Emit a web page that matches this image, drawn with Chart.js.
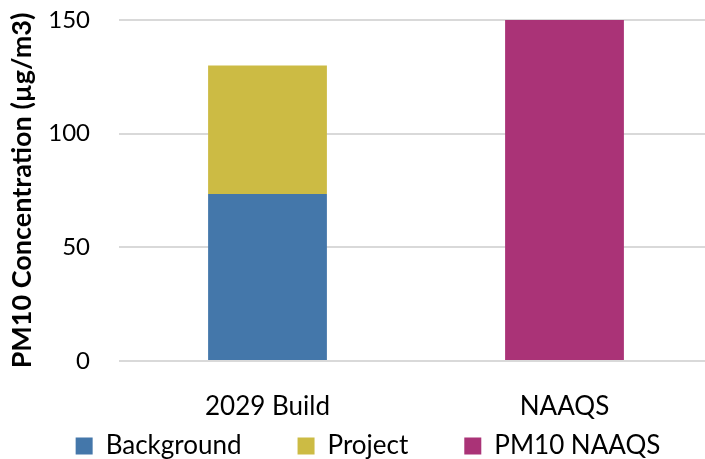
<!DOCTYPE html>
<html>
<head>
<meta charset="utf-8">
<script src="https://cdn.jsdelivr.net/npm/chart.js@4/dist/chart.umd.min.js"></script>
<style>
    html, body { margin: 0; padding: 0; background: #fff; overflow: hidden; }
    #wrap { width: 705px; height: 459px; overflow: hidden; }
</style>
</head>
<body>
<!-- canvas is a bit larger than the window so the gridlines run off the right edge like the original -->
<div id="wrap"><canvas id="pmChart" width="713" height="513"></canvas></div>
<script>
const categories = ["2029 Build", "NAAQS"];
const background = [73.5, null];
const project = [56.5, null];
const naaqs = [null, 150];
const yTicks = [0, 50, 100, 150];

// legend padding also sets the gap between items, so move the legend into place after layout
const legendNudge = {
    id: "legendNudge",
    afterLayout(chart) {
        const lg = chart.legend;
        const labels = lg.options.labels;
        const dy = 446 - (lg.top + labels.padding + labels.font.size / 2);
        const dx = 368 - (lg.left + lg.right) / 2;
        lg.top += dy;
        lg.bottom += dy;
        lg.left += dx;
        lg.right += dx;
    }
};

const ctx = document.getElementById("pmChart");

new Chart(ctx, {
    type: "bar",
    data: {
        labels: categories,
        datasets: [
            { label: "Background", data: background, backgroundColor: "#4477AA", borderWidth: 0 },
            { label: "Project", data: project, backgroundColor: "#CCBB44", borderWidth: 0 },
            { label: "PM10 NAAQS", data: naaqs, backgroundColor: "#AA3377", borderWidth: 0 }
        ]
    },
    plugins: [legendNudge],
    options: {
        responsive: false,
        animation: false,
        layout: {
            padding: { top: 20, right: 0, bottom: 0, left: 0 }
        },
        datasets: {
            bar: { barPercentage: 0.4, categoryPercentage: 1.0 }
        },
        plugins: {
            legend: {
                position: "bottom",
                labels: {
                    color: "#000",
                    font: { family: "Lato", size: 26 },
                    boxWidth: 17,
                    boxHeight: 17,
                    padding: 56
                }
            },
            tooltip: { enabled: false }
        },
        scales: {
            x: {
                stacked: true,
                grid: { display: false },
                border: { display: false },
                ticks: {
                    color: "#000",
                    font: { family: "Lato", size: 26 },
                    padding: 22
                },
                afterFit: (scale) => { scale.height = 60; }
            },
            y: {
                stacked: true,
                min: 0,
                max: 150,
                afterBuildTicks: (scale) => {
                    scale.ticks = yTicks.map(v => ({ value: v }));
                },
                grid: { color: "#D9D9D9", lineWidth: 2, drawTicks: false },
                border: { display: false },
                ticks: {
                    color: "#000",
                    font: { family: "Lato", size: 24 },
                    padding: 29
                },
                title: {
                    display: true,
                    text: "PM10 Concentration (µg/m3)",
                    color: "#000",
                    font: { family: "Lato", size: 27, weight: "bold" },
                    padding: { top: 6, bottom: 6 }
                },
                afterFit: (scale) => {
                    scale.width = 119;
                    scale.paddingTop = 0;
                    scale.paddingBottom = 0;
                }
            }
        }
    }
});
</script>
</body>
</html>
